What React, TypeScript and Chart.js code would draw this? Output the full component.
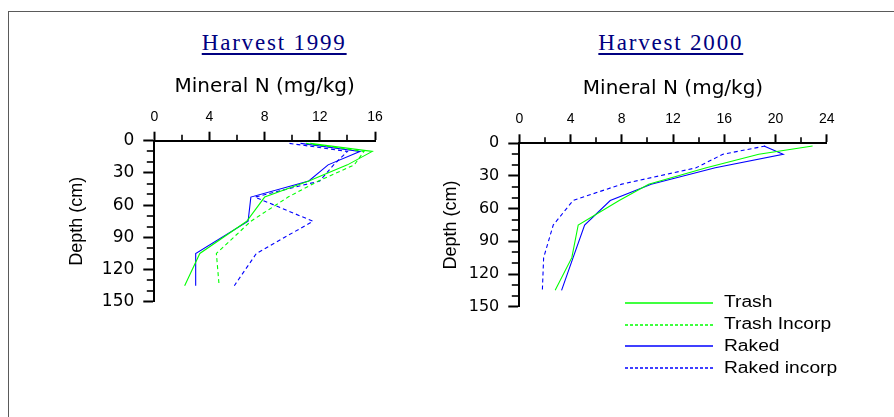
import React, { useEffect, useRef } from 'react';
import { Chart, registerables } from 'chart.js';

Chart.register(...registerables);

// Sampling depths (layer mid-points, cm)
const depthCm = [2.5, 10, 22.5, 37.5, 52.5, 75, 105, 135];

// Mineral N (mg/kg) profiles, harvest 1999
const trash1999 = [11.3, 15.8, 14.0, 11.2, 8.0, 6.7, 3.3, 2.2];
const trashIncorp1999 = [11.0, 15.2, 14.5, 11.9, 9.7, 7.0, 4.5, 4.7];
const raked1999 = [10.6, 14.9, 12.6, 11.2, 7.0, 6.8, 3.0, 3.0];
const rakedIncorp1999 = [9.8, 14.0, 13.0, 12.0, 7.3, 11.5, 7.4, 5.8];

// Mineral N (mg/kg) profiles, harvest 2000 (no Trash Incorp samples)
const trash2000 = [22.9, 18.7, 14.6, 10.1, 7.8, 4.6, 4.1, 2.8];
const trashIncorp2000: number[] = [];
const raked2000 = [19.1, 20.6, 15.3, 10.3, 7.1, 5.1, 4.2, 3.3];
const rakedIncorp2000 = [19.2, 15.9, 13.8, 8.0, 4.2, 2.65, 1.9, 1.8];

const seriesNames = ['Trash', 'Trash Incorp', 'Raked', 'Raked incorp'];

// Labelled tick values
const nTicks1999 = [0, 4, 8, 12, 16];
const nTicks2000 = [0, 4, 8, 12, 16, 20, 24];
const depthTicks = [0, 30, 60, 90, 120, 150];

const SANS = "'Liberation Sans', Arial, sans-serif";
const WIDE = "'DejaVu Sans', Verdana, sans-serif";
const SERIF = "'Liberation Serif', 'Times New Roman', serif";

const seriesStyle = [
  { color: '#00ff00', dash: [] as number[] },
  { color: '#00ff00', dash: [4, 3] },
  { color: '#0000ff', dash: [] as number[] },
  { color: '#0000ff', dash: [4, 3] },
];

const profile = (values: number[]) =>
  values.map((v, i) => ({ x: v, y: depthCm[i] }));

// Short unlabelled ticks between the labelled ones
const minorTicks = {
  id: 'minorTicks',
  afterDraw(chart: any, _args: any, opts: any) {
    const { ctx, chartArea, scales } = chart;
    ctx.save();
    ctx.strokeStyle = '#000';
    ctx.lineWidth = 1.6;
    scales.x.ticks.forEach((t: any) => {
      if (opts.xMajor.includes(t.value)) return;
      const px = Math.round(scales.x.getPixelForValue(t.value));
      ctx.beginPath();
      ctx.moveTo(px, chartArea.top);
      ctx.lineTo(px, chartArea.top - opts.xLen);
      ctx.stroke();
    });
    scales.y.ticks.forEach((t: any) => {
      if (opts.yMajor.includes(t.value)) return;
      const py = Math.round(scales.y.getPixelForValue(t.value));
      ctx.beginPath();
      ctx.moveTo(chartArea.left, py);
      ctx.lineTo(chartArea.left - opts.yLen, py);
      ctx.stroke();
    });
    ctx.restore();
  },
};

// Series key drawn inside the lower right of the plot
const profileLegend = {
  id: 'profileLegend',
  afterDraw(chart: any, _args: any, opts: any) {
    if (!opts || !opts.display) return;
    const { ctx, chartArea } = chart;
    const x0 = chartArea.right + opts.dx;
    let y = chartArea.bottom + opts.dy;
    ctx.save();
    ctx.font = opts.font;
    ctx.textBaseline = 'middle';
    ctx.fillStyle = '#000';
    chart.data.datasets.forEach((ds: any) => {
      const ly = Math.round(y);
      ctx.beginPath();
      ctx.strokeStyle = ds.borderColor;
      ctx.lineWidth = opts.lineWidth;
      ctx.setLineDash(ds.legendDash || []);
      ctx.moveTo(x0, ly);
      ctx.lineTo(x0 + opts.lineLength, ly);
      ctx.stroke();
      ctx.setLineDash([]);
      ctx.save();
      ctx.translate(x0 + opts.lineLength + opts.textGap, y);
      ctx.scale(opts.stretch, 1);
      ctx.fillText(ds.label, 0, 0);
      ctx.restore();
      y += opts.rowHeight;
    });
    ctx.restore();
  },
};

type PanelSpec = {
  series: number[][];
  nTicks: number[];
  left: number;
  top: number;
  width: number;
  height: number;
  yAxisWidth: number;
  xAxisHeight: number;
  padRight: number;
  padBottom: number;
  depthFont: number;
  xTickPad: number;
  legend: boolean;
};

function buildConfig(p: PanelSpec): any {
  const datasets = p.series.map((values, i) => ({
    label: seriesNames[i],
    data: profile(values),
    borderColor: seriesStyle[i].color,
    borderWidth: 1.1,
    borderDash: seriesStyle[i].dash,
    legendDash: seriesStyle[i].dash.length ? [3, 2] : [],
    showLine: true,
    pointRadius: 0,
    fill: false,
    tension: 0,
  }));
  return {
    type: 'scatter',
    data: { datasets },
    plugins: [minorTicks, profileLegend],
    options: {
      responsive: false,
      animation: false,
      devicePixelRatio: 1,
      layout: { padding: { left: 0, top: 0, right: p.padRight, bottom: p.padBottom } },
      plugins: {
        legend: { display: false },
        tooltip: { enabled: false },
        minorTicks: { xMajor: p.nTicks, yMajor: depthTicks, xLen: 6, yLen: 7.5 },
        profileLegend: {
          display: p.legend,
          dx: -201.7,
          dy: -4,
          rowHeight: 21.9,
          lineLength: 88,
          textGap: 11,
          stretch: 1.2,
          lineWidth: 1.6,
          font: `16px ${SANS}`,
        },
      },
      scales: {
        x: {
          type: 'linear',
          position: 'top',
          min: p.nTicks[0],
          max: p.nTicks[p.nTicks.length - 1],
          afterFit: (s: any) => {
            s.height = p.xAxisHeight;
          },
          ticks: {
            stepSize: 2,
            autoSkip: false,
            maxRotation: 0,
            padding: p.xTickPad,
            color: '#000',
            font: { family: SANS, size: 14 },
            callback: (v: number) => (p.nTicks.includes(v) ? String(v) : ''),
          },
          grid: {
            display: true,
            drawOnChartArea: false,
            drawTicks: true,
            tickLength: 9,
            tickWidth: 2,
            tickColor: (c: any) =>
              c.tick && p.nTicks.includes(c.tick.value) ? '#000' : 'rgba(0,0,0,0)',
          },
          border: { display: true, color: '#000', width: 2 },
          title: {
            display: true,
            text: 'Mineral N (mg/kg)',
            color: '#000',
            font: { family: WIDE, size: 20 },
            padding: { top: 19.5, bottom: 0 },
          },
        },
        y: {
          type: 'linear',
          reverse: true,
          min: depthTicks[0],
          max: depthTicks[depthTicks.length - 1],
          afterFit: (s: any) => {
            s.width = p.yAxisWidth;
          },
          ticks: {
            stepSize: 10,
            autoSkip: false,
            padding: 9,
            color: '#000',
            font: { family: WIDE, size: p.depthFont },
            callback: (v: number) => (depthTicks.includes(v) ? String(v) : ''),
          },
          grid: {
            display: true,
            drawOnChartArea: false,
            drawTicks: true,
            tickLength: 11,
            tickWidth: 2,
            tickColor: (c: any) =>
              c.tick && depthTicks.includes(c.tick.value) ? '#000' : 'rgba(0,0,0,0)',
          },
          border: { display: true, color: '#000', width: 2 },
          title: {
            display: true,
            text: 'Depth (cm)',
            color: '#000',
            font: { family: SANS, size: 18 },
            padding: { top: 46, bottom: 0 },
          },
        },
      },
    },
  };
}

function Panel({ spec }: { spec: PanelSpec }) {
  const ref = useRef<HTMLCanvasElement | null>(null);
  useEffect(() => {
    if (!ref.current) return;
    const chart = new Chart(ref.current, buildConfig(spec));
    return () => chart.destroy();
  }, []);
  return (
    <canvas
      ref={ref}
      width={spec.width}
      height={spec.height}
      style={{
        position: 'absolute',
        left: spec.left,
        top: spec.top,
        width: spec.width,
        height: spec.height,
      }}
    />
  );
}

function Heading({ text, centerX }: { text: string; centerX: number }) {
  return (
    <div
      style={{
        position: 'absolute',
        left: centerX,
        top: 30.7,
        transform: 'translateX(-50%)',
        fontFamily: SERIF,
        fontSize: 23,
        lineHeight: '23px',
        letterSpacing: '1.8px',
        color: '#000080',
        whiteSpace: 'nowrap',
        textDecoration: 'underline',
        textDecorationThickness: '2px',
        textUnderlineOffset: '3px',
      }}
    >
      {text}
    </div>
  );
}

const panel1999: PanelSpec = {
  series: [trash1999, trashIncorp1999, raked1999, rakedIncorp1999],
  nTicks: nTicks1999,
  left: 20,
  top: 55,
  width: 370,
  height: 266,
  yAxisWidth: 134.3,
  xAxisHeight: 85.7,
  padRight: 15,
  padBottom: 15,
  depthFont: 17,
  xTickPad: 6,
  legend: false,
};

const panel2000: PanelSpec = {
  series: [trash2000, trashIncorp2000, raked2000, rakedIncorp2000],
  nTicks: nTicks2000,
  left: 394,
  top: 57,
  width: 448,
  height: 333,
  yAxisWidth: 125.3,
  xAxisHeight: 86.3,
  padRight: 15.3,
  padBottom: 83.3,
  depthFont: 16,
  xTickPad: 6.5,
  legend: true,
};

export default function App() {
  return (
    <div
      style={{
        position: 'absolute',
        left: 0,
        top: 0,
        width: 894,
        height: 417,
        overflow: 'hidden',
        background: '#fff',
      }}
    >
      <div
        style={{
          position: 'absolute',
          left: 8,
          top: 11,
          width: 900,
          height: 420,
          borderTop: '1px solid #5a5a5a',
          borderLeft: '1px solid #5a5a5a',
        }}
      />
      <Heading text="Harvest 1999" centerX={274.2} />
      <Heading text="Harvest 2000" centerX={670.8} />
      <Panel spec={panel1999} />
      <Panel spec={panel2000} />
    </div>
  );
}
